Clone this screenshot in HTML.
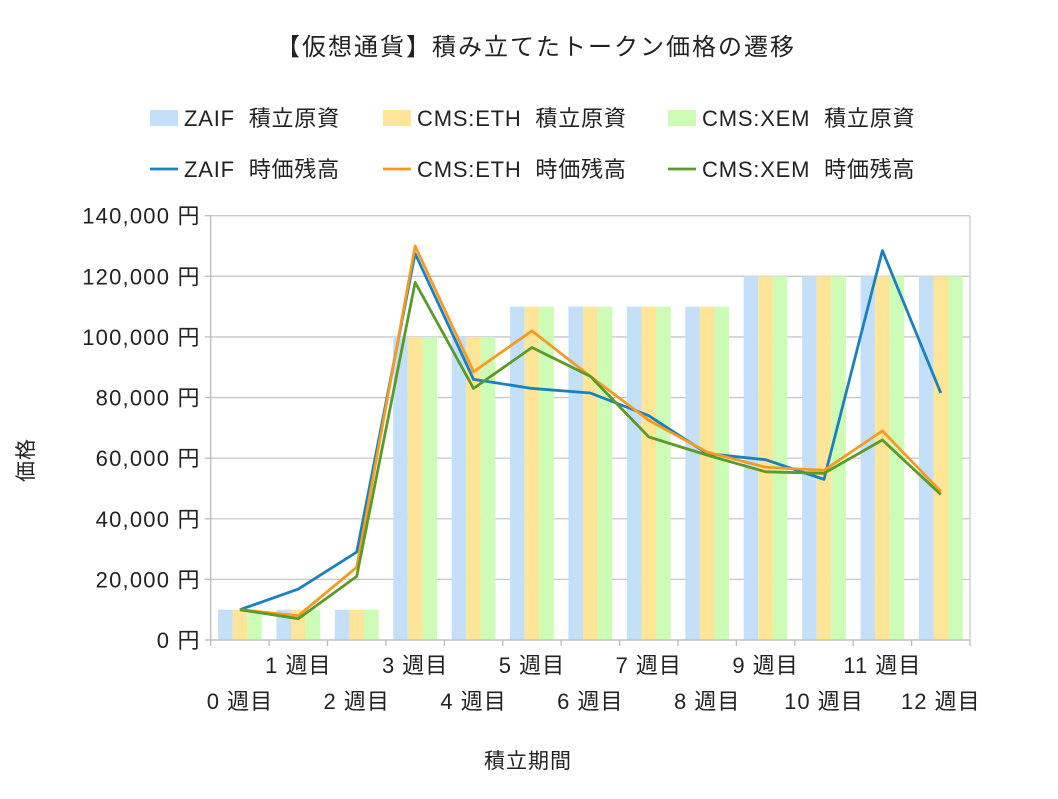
<!DOCTYPE html>
<html><head><meta charset="utf-8"><style>
body{margin:0;background:#fff;}
svg text{font-family:"Liberation Sans","Noto Sans CJK JP",sans-serif;fill:#222;white-space:pre;}
</style></head><body>
<svg id="chart" width="1058" height="794" viewBox="0 0 1058 794" xmlns="http://www.w3.org/2000/svg">
<rect width="1058" height="794" fill="#fff"/>
<text x="536" y="55" font-size="24" letter-spacing="2" text-anchor="middle">【仮想通貨】積み立てたトークン価格の遷移</text>
<g id="legend"></g>
<g id="grid"></g>
<g id="bars"></g>
<g id="lines"></g>
<g id="axes"></g>
<text x="33" y="460" font-size="21" letter-spacing="1" text-anchor="middle" transform="rotate(-90 33 460)">価格</text>
<text x="528" y="768" font-size="21" letter-spacing="1" text-anchor="middle">積立期間</text>
</svg>
<script>
const categories=["0 週目","1 週目","2 週目","3 週目","4 週目","5 週目","6 週目","7 週目","8 週目","9 週目","10 週目","11 週目","12 週目"];
const zaifPrincipal=[10000,10000,10000,100000,100000,110000,110000,110000,110000,120000,120000,120000,120000];
const ethPrincipal=[10000,10000,10000,100000,100000,110000,110000,110000,110000,120000,120000,120000,120000];
const xemPrincipal=[10000,10000,10000,100000,100000,110000,110000,110000,110000,120000,120000,120000,120000];
const zaifValue=[10000,16800,29000,127500,86000,83000,81500,74000,61500,59500,53000,128500,81500];
const ethValue=[10000,8000,24000,130000,88500,102000,87000,72500,62000,57000,56000,69000,49000];
const xemValue=[10000,7000,21000,118000,83000,96500,87000,67000,61000,55500,55000,66000,48000];
const yTicks=[0,20000,40000,60000,80000,100000,120000,140000];
const yTickLabels=["0 円","20,000 円","40,000 円","60,000 円","80,000 円","100,000 円","120,000 円","140,000 円"];

const NS="http://www.w3.org/2000/svg";
const L=210.7,R=970,T=215.7,B=640,YMAX=140000;
const cw=(R-L)/categories.length;
const y=v=>B-(v/YMAX)*(B-T);
const xc=i=>L+cw*(i+0.5);
function mk(tag,attrs,parent){const e=document.createElementNS(NS,tag);for(const k in attrs)e.setAttribute(k,attrs[k]);parent.appendChild(e);return e;}
const grid=document.getElementById('grid'),bars=document.getElementById('bars'),lines=document.getElementById('lines'),axes=document.getElementById('axes'),legend=document.getElementById('legend');

yTicks.forEach((t,i)=>{
  const g=mk('line',{x1:L,x2:R,y1:y(t),y2:y(t),stroke:'#c8c8c8','stroke-width':1.3},grid);
  
  
  const tk=mk('line',{x1:L-6,x2:L,y1:y(t),y2:y(t),stroke:'#bbb','stroke-width':1.3},axes);
  
  
  const tx=mk('text',{x:L-10,y:y(t)+8,'font-size':22,'letter-spacing':1.2,'text-anchor':'end'},axes);
  tx.textContent=yTickLabels[i];
  
  
});
mk('line',{x1:R,x2:R,y1:T,y2:B,stroke:'#c8c8c8','stroke-width':1.3},grid);

const bw=14.6,off=(cw-3*bw)/2;
const barSeries=[[zaifPrincipal,'#c3e0f8'],[ethPrincipal,'#ffe597'],[xemPrincipal,'#ccfcb6']];
categories.forEach((c,i)=>{
  barSeries.forEach((s,j)=>{
    const v=s[0][i];
    const b=mk('rect',{x:L+cw*i+off+j*bw,y:y(v),width:bw,height:B-y(v),fill:s[1]},bars);
    
    
  });
});
const lineSeries=[[zaifValue,'#1a80c0'],[ethValue,'#f59a23'],[xemValue,'#5a9a28']];
lineSeries.forEach((s,j)=>{
  const p=mk('polyline',{points:s[0].map((v,i)=>xc(i)+','+y(v)).join(' '),fill:'none',stroke:s[1],'stroke-width':2.8,'stroke-linejoin':'round'},lines);
  
  
});
mk('line',{x1:L,x2:L,y1:T,y2:B,stroke:'#bbb','stroke-width':1.3},axes);
mk('line',{x1:L,x2:R,y1:B,y2:B,stroke:'#bbb','stroke-width':1.3},axes);
for(let i=0;i<=categories.length;i++){
  const t=mk('line',{x1:L+cw*i,x2:L+cw*i,y1:B,y2:B+6,stroke:'#bbb','stroke-width':1.3},axes);
  
  
}
categories.forEach((c,i)=>{
  const tx=mk('text',{x:xc(i),y:i%2?673:709,'font-size':22,'letter-spacing':1,'text-anchor':'middle'},axes);
  tx.textContent=c;
  
  
});
const legendItems=[
 ['ZAIF  積立原資','#c3e0f8','bar',150,118],['CMS:ETH  積立原資','#ffe597','bar',383,118],['CMS:XEM  積立原資','#ccfcb6','bar',668,118],
 ['ZAIF  時価残高','#1a80c0','line',150,169],['CMS:ETH  時価残高','#f59a23','line',383,169],['CMS:XEM  時価残高','#5a9a28','line',668,169]];
legendItems.forEach(it=>{
  const g=mk('g',{},legend);
  
  
  if(it[2]==='bar') mk('rect',{x:it[3],y:it[4]-8,width:28,height:16,fill:it[1]},g);
  else mk('line',{x1:it[3],x2:it[3]+28,y1:it[4],y2:it[4],stroke:it[1],'stroke-width':2.8},g);
  const t=mk('text',{x:it[3]+34,y:it[4]+8,'font-size':22,'letter-spacing':0.8},g);
  t.textContent=it[0];
});
</script>
</body></html>
